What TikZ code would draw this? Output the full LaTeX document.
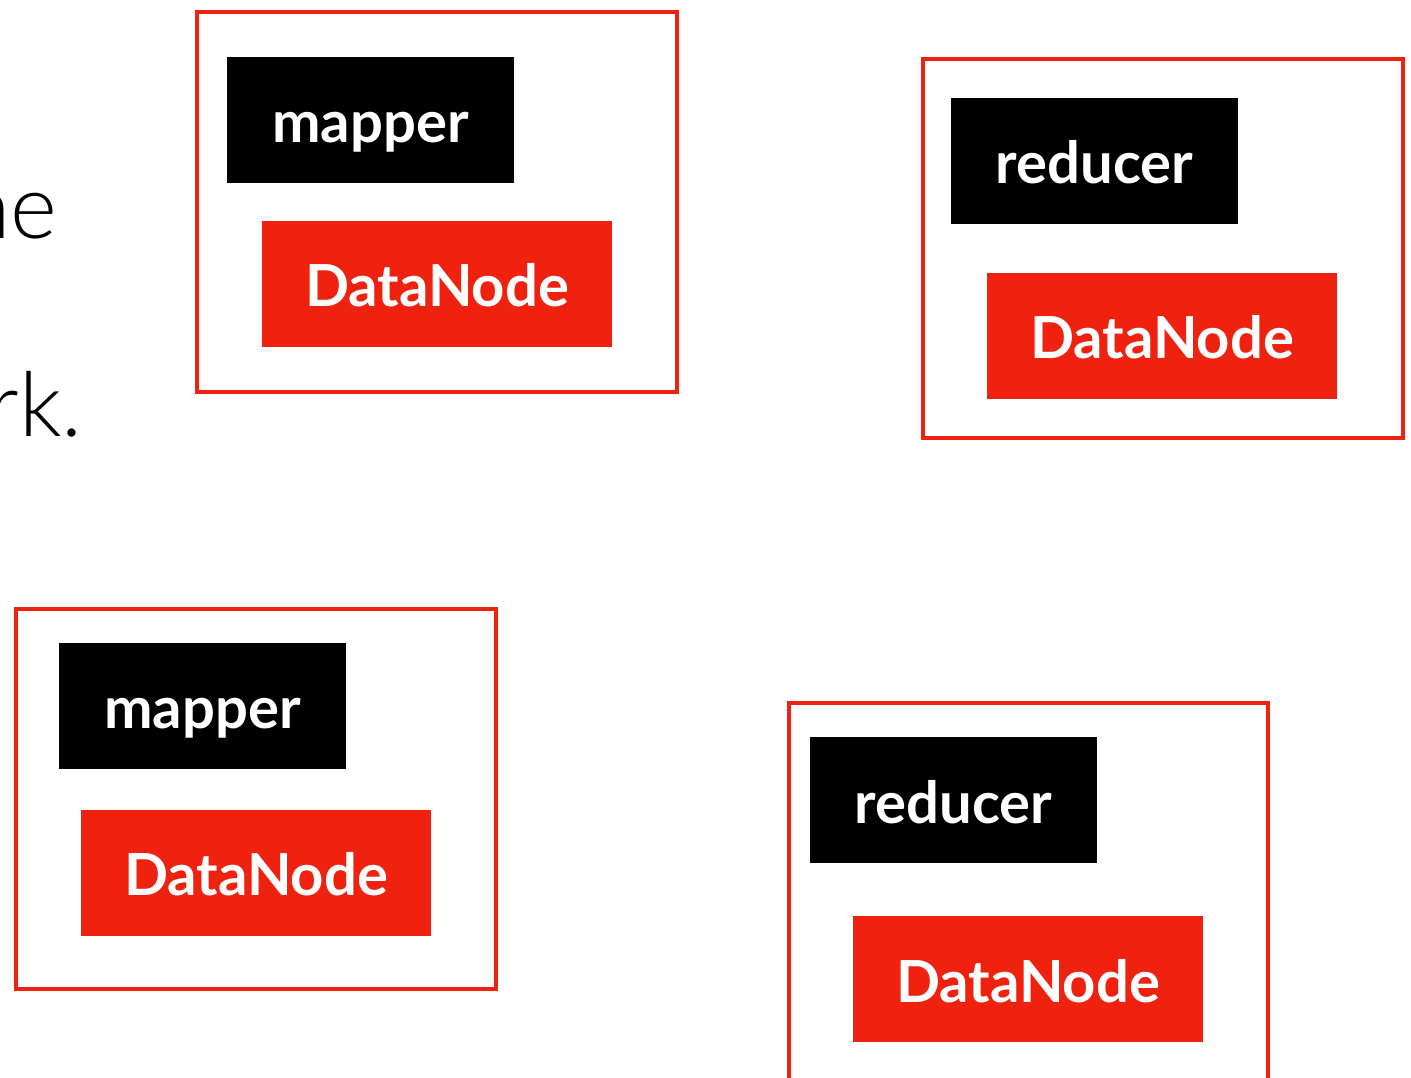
\documentclass[tikz,border=0pt]{standalone}
\usepackage{fontspec}
\setmainfont{Lato}
\newfontfamily\thinfont{Lato Light}
\usepackage{tikz}
\usepackage{xcolor}
\usetikzlibrary{positioning}

\definecolor{slidered}{HTML}{EE220F}

\tikzset{
    hostbox/.style={draw=slidered, line width=2.3pt, minimum width=9.6cm, minimum height=7.6cm, inner sep=0pt},
    labelbox/.style={text=white, minimum height=2.54cm, inner sep=0pt, text height=1.1cm, text depth=0.18cm, font=\fontsize{33}{38}\selectfont\bfseries},
    taskbox/.style={labelbox, fill=black, minimum width=5.75cm},
    databox/.style={labelbox, fill=slidered, minimum width=7cm}
}

\begin{document}
\begin{tikzpicture}[x=0.02cm, y=-0.02cm]
                        \useasboundingbox (0, 0) rectangle (1411, 1078);
                        \clip (0, 0) rectangle (1411, 1078);

                        % cut-off slide text on the left
                        \node[anchor=base east, inner sep=0pt, font=\thinfont\fontsize{51}{60}\selectfont] (textne) at (58, 238) {ne};
                        \node[anchor=base east, inner sep=0pt, font=\thinfont\fontsize{51}{60}\selectfont] (textrk) at (83, 436) {rk.};

                        % hosts
                        \node[hostbox] (hostA) at (437, 202) {};
                        \node[hostbox] (hostB) at (1163, 248.5) {};
                        \node[hostbox] (hostC) at (256, 799) {};
                        \node[hostbox] (hostD) at (1028.5, 893) {};

                        \node[taskbox] (mapA) at (370.5, 120) {mapper};
                        \node[databox] (dataA) at (437, 284) {DataNode};

                        \node[taskbox] (redB) at (1094.5, 161) {reducer};
                        \node[databox] (dataB) at (1162, 336) {DataNode};

                        \node[taskbox] (mapC) at (202.5, 706) {mapper};
                        \node[databox] (dataC) at (256, 873) {DataNode};

                        \node[taskbox] (redD) at (953.5, 800) {reducer};
                        \node[databox] (dataD) at (1028, 979) {DataNode};
                    \end{tikzpicture}
\end{document}
